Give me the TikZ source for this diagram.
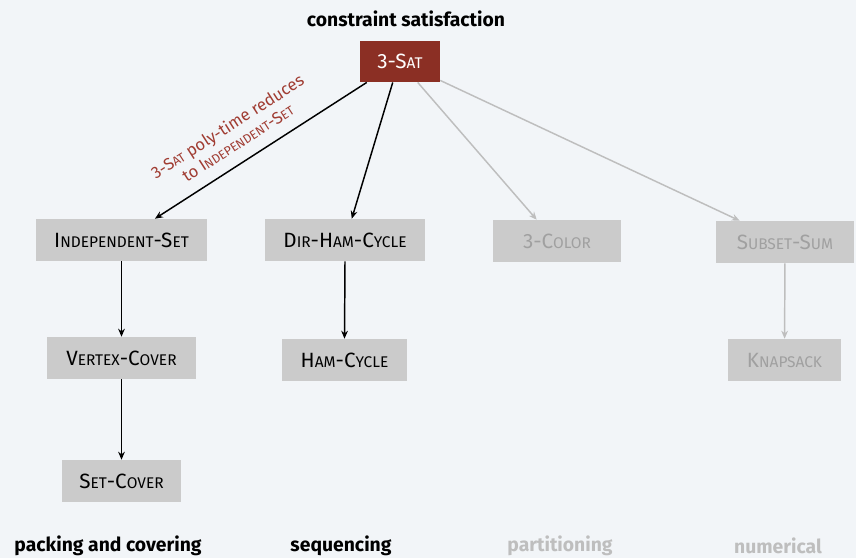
\documentclass[tikz,border=0pt]{standalone}
\usepackage{fontspec}
\setmainfont{Fira Sans}
\usetikzlibrary{arrows.meta,calc}
\definecolor{bgc}{RGB}{242,245,248}
\definecolor{satred}{RGB}{139,47,36}
\definecolor{lblred}{RGB}{160,60,50}
\definecolor{boxgray}{RGB}{203,203,203}
\definecolor{txtgray}{RGB}{160,160,160}
\definecolor{lngray}{RGB}{190,190,190}
\definecolor{lblgray}{RGB}{190,190,190}
\newcommand\smc[1]{{\fontsize{11.6pt}{13pt}\selectfont #1}}
\newcommand\smcl[1]{{\fontsize{9.4pt}{11pt}\selectfont #1}}
\tikzset{
  probbox/.style={fill=boxgray, inner sep=0pt, minimum height=31.5pt, font=\fontsize{15.5pt}{17pt}\selectfont, text=black},
  greybox/.style={probbox, text=txtgray},
  blk/.style={-{Stealth[length=6pt,width=5pt]}, line width=1.1pt, black},
  gry/.style={-{Stealth[length=6pt,width=5pt]}, line width=1.1pt, lngray},
  cat/.style={font=\bfseries\fontsize{14.5pt}{17pt}\selectfont, inner sep=1pt}
}
\begin{document}
\begin{tikzpicture}[x=0.75pt,y=-0.75pt]
\fill[bgc] (0,0) rectangle (856,558);
\useasboundingbox (0,0) rectangle (856,558);

\node[cat] (hdr) at (406,19) {constraint satisfaction};
\node[probbox, fill=satred, text=white, minimum width=60pt, minimum height=31pt] (sat) at (400,61.5) {3-S\smc{AT}};

\node[probbox, minimum width=128pt] (is) at (121.5,240) {I\smc{NDEPENDENT}-S\smc{ET}};
\node[probbox, minimum width=120pt] (dhc) at (345,240) {D\smc{IR}-H\smc{AM}-C\smc{YCLE}};
\node[greybox, minimum width=96pt] (col) at (557,241) {3-C\smc{OLOR}};
\node[greybox, minimum width=103.5pt] (ss) at (785,242) {S\smc{UBSET}-S\smc{UM}};
\node[probbox, minimum width=112pt] (vc) at (121.5,358) {V\smc{ERTEX}-C\smc{OVER}};
\node[probbox, minimum width=94pt] (hc) at (344.5,360) {H\smc{AM}-C\smc{YCLE}};
\node[greybox, minimum width=85pt] (ks) at (784.5,360) {K\smc{NAPSACK}};
\node[probbox, minimum width=89pt] (sc) at (121.5,481) {S\smc{ET}-C\smc{OVER}};

\node[cat] (l1) at (108,546) {packing and covering};
\node[cat] (l2) at (341,546) {sequencing};
\node[cat, text=lblgray] (l3) at (560,546) {partitioning};
\node[cat, text=lblgray] (l4) at (778,546) {numerical};

\coordinate (s1) at ($(sat.south west)+(7,0)$);
\coordinate (s2) at ($(sat.south west)+(33,0)$);
\coordinate (s3) at ($(sat.south west)+(58,0)$);
\coordinate (s4) at ($(sat.south east)+(0,-2)$);
\coordinate (e1) at ($(is.north west)+(119,0)$);
\coordinate (e2) at ($(dhc.north west)+(87,0)$);
\coordinate (e3) at ($(col.north west)+(44,0)$);
\coordinate (e4) at ($(ss.north west)+(24,0)$);

\draw[gry] (s3) -- (e3);
\draw[gry] (s4) -- (e4);
\draw[blk] (s1) -- node[pos=0.56, sloped, above=8pt, text=lblred, align=center, font=\fontsize{12.5pt}{14.5pt}\selectfont, inner sep=1pt] (lbl) {3-S\smcl{AT} poly-time reduces\\to I\smcl{NDEPENDENT}-S\smcl{ET}} (e1);
\draw[blk] (s2) -- (e2);
\draw[blk] (is) -- (vc);
\draw[blk] (vc) -- (sc);
\draw[blk] (dhc.south) -- (hc.north);
\draw[gry] (ss) -- (ks);
\end{tikzpicture}
\end{document}
